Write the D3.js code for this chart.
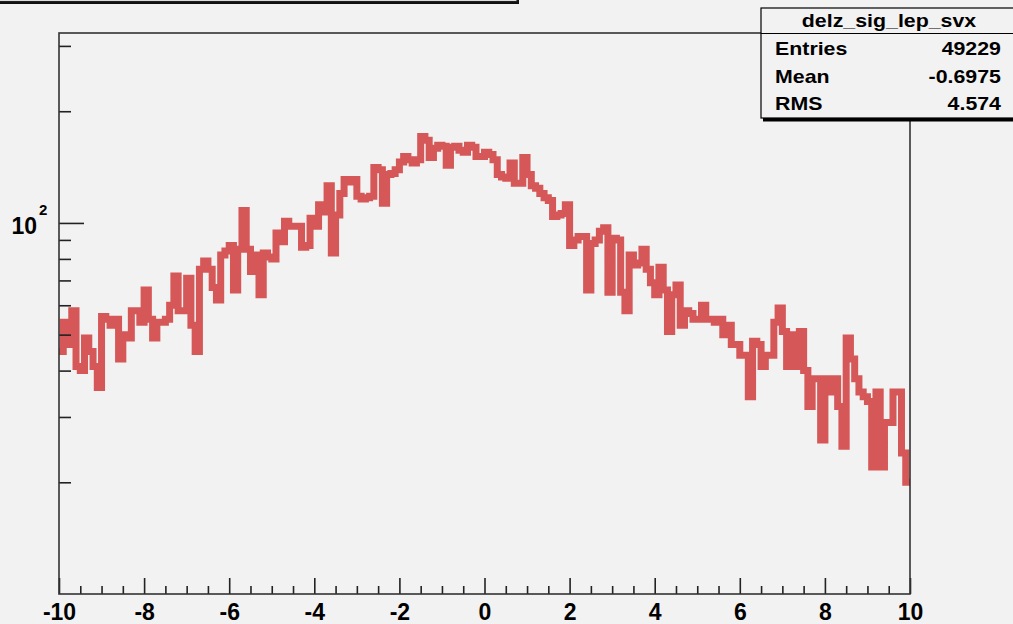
<!DOCTYPE html>
<html>
<head>
<meta charset="utf-8">
<script src="https://cdn.jsdelivr.net/npm/d3@7"></script>
<style>
  body { margin: 0; background: #f2f2f2; }
  svg { display: block; }
  text { font-family: "Liberation Sans", Arial, Helvetica, sans-serif; font-weight: bold; fill: #000; }
</style>
</head>
<body>
<div id="chart"></div>
<script>
// histogram delz_sig_lep_svx, 200 bins from -10 to 10 (counts)
const binLow = -10, binHigh = 10;
const counts = [
  45, 54, 47, 58, 41, 40, 49, 45, 41, 36,
  56, 55, 53, 55, 43, 50, 49, 58, 58, 54,
  66, 55, 49, 54, 54, 55, 60, 72, 58, 58,
  71, 53, 45, 75, 79, 75, 67, 62, 82, 84,
  87, 66, 85, 108, 85, 74, 82, 64, 83, 81,
  80, 94, 89, 101, 98, 98, 98, 86, 87, 103,
  98, 112, 107, 126, 83, 105, 120, 131, 129, 131,
  118, 116, 117, 118, 141, 139, 113, 135, 136, 139,
  146, 151, 148, 145, 148, 171, 167, 150, 159, 162,
  161, 143, 160, 161, 157, 155, 162, 160, 151, 151,
  155, 153, 148, 135, 133, 132, 145, 128, 128, 150,
  135, 126, 124, 120, 117, 115, 104, 105, 106, 112,
  87, 90, 92, 92, 66, 88, 90, 95, 97, 65,
  91, 90, 65, 58, 82, 77, 78, 85, 75, 69,
  64, 76, 66, 51, 64, 68, 53, 58, 57, 55,
  55, 60, 55, 55, 54, 55, 50, 53, 47, 47,
  44, 44, 34, 48, 47, 41, 44, 44, 54, 59,
  51, 41, 50, 41, 51, 40, 32, 38, 38, 26,
  38, 35, 38, 32, 25, 49, 43, 38, 35, 34,
  33, 22, 35, 22, 29, 29, 35, 35, 24, 20
];

const xMajor = [-10, -8, -6, -4, -2, 0, 2, 4, 6, 8, 10];
const xMinor = d3.range(-9.5, 10, 0.5).filter(v => Math.abs(v % 2) > 0.01);
const yMajor = [100];
const yMinor = [20, 30, 40, 50, 60, 70, 80, 90, 200, 300];
const yDomain = [10, 325];

const statsTitle = "delz_sig_lep_svx";
const statsRows = [["Entries", "49229"], ["Mean", "-0.6975"], ["RMS", "4.574"]];

const width = 1013, height = 624;
const frame = { left: 59, right: 910, top: 33, bottom: 594 };
const lineColor = "#d65757";

const svg = d3.select("#chart").append("svg")
  .attr("width", width)
  .attr("height", height);

svg.append("rect")
  .attr("width", width).attr("height", height)
  .attr("fill", "#f2f2f2");

const x = d3.scaleLinear().domain([binLow, binHigh]).range([frame.left, frame.right]);
const y = d3.scaleLog().domain(yDomain).range([frame.bottom, frame.top]);

// title box, only its lower edge shows on the canvas
svg.append("rect")
  .attr("x", -10).attr("y", -30).attr("width", 529).attr("height", 34)
  .attr("fill", "#111");
svg.append("rect")
  .attr("x", -10).attr("y", -30).attr("width", 527).attr("height", 31.5)
  .attr("fill", "#f2f2f2").attr("stroke", "#222").attr("stroke-width", 1.2);

svg.append("clipPath").attr("id", "frameClip")
  .append("rect")
  .attr("x", frame.left).attr("y", frame.top)
  .attr("width", frame.right - frame.left)
  .attr("height", frame.bottom - frame.top);

// histogram outline
const binW = (binHigh - binLow) / counts.length;
const pts = counts.map((c, i) => [binLow + i * binW, c]);
pts.push([binHigh, counts[counts.length - 1]]);

const line = d3.line()
  .x(d => x(d[0]))
  .y(d => y(d[1]))
  .curve(d3.curveStepAfter);

svg.append("path")
  .datum(pts)
  .attr("clip-path", "url(#frameClip)")
  .attr("d", line)
  .attr("fill", "none")
  .attr("stroke", lineColor)
  .attr("stroke-width", 7)
  .attr("stroke-linejoin", "miter");

// axes
const gx = svg.append("g").attr("transform", `translate(0,${frame.bottom})`);
gx.append("g")
  .call(d3.axisBottom(x).tickValues(xMinor).tickSize(-8).tickFormat(""))
  .call(g => g.select(".domain").remove());
gx.append("g")
  .call(d3.axisBottom(x).tickValues(xMajor).tickSize(-16).tickFormat(d3.format("d")))
  .call(g => g.select(".domain").remove())
  .selectAll("text")
  .attr("y", 26).attr("dy", 0)
  .style("font-size", "23px")
  .style("font-family", "'Liberation Sans', Arial, sans-serif")
  .style("font-weight", "bold")
  .text(d => d < 0 ? "-" + Math.abs(d) : d);

const gy = svg.append("g").attr("transform", `translate(${frame.left},0)`);
gy.append("g")
  .call(d3.axisLeft(y).tickValues(yMinor).tickSize(-12).tickFormat(""))
  .call(g => g.select(".domain").remove());
gy.append("g")
  .call(d3.axisLeft(y).tickValues(yMajor).tickSize(-25).tickFormat(""))
  .call(g => g.select(".domain").remove());
svg.selectAll(".tick line").attr("stroke", "#222").attr("stroke-width", 1.6);

svg.append("text")
  .attr("x", 37).attr("y", y(100) + 11)
  .attr("text-anchor", "end")
  .style("font-size", "23px")
  .text("10");
svg.append("text")
  .attr("x", 39).attr("y", y(100) - 8)
  .style("font-size", "15px")
  .text("2");

// frame
svg.append("rect")
  .attr("x", frame.left).attr("y", frame.top)
  .attr("width", frame.right - frame.left)
  .attr("height", frame.bottom - frame.top)
  .attr("fill", "none")
  .attr("stroke", "#333")
  .attr("stroke-width", 1.6);

// stats box
const sb = { x: 761, y: 8, w: 270, h: 110 };
svg.append("rect")
  .attr("x", sb.x + 2).attr("y", sb.y + 2).attr("width", sb.w).attr("height", sb.h + 1.5)
  .attr("fill", "#000");
svg.append("rect")
  .attr("x", sb.x).attr("y", sb.y).attr("width", sb.w).attr("height", sb.h)
  .attr("fill", "#f2f2f2").attr("stroke", "#000").attr("stroke-width", 1.2);
svg.append("line")
  .attr("x1", sb.x).attr("x2", sb.x + sb.w)
  .attr("y1", 33.5).attr("y2", 33.5)
  .attr("stroke", "#000").attr("stroke-width", 1.2);

const sx = 1.22;
svg.append("text")
  .attr("transform", `translate(889,27) scale(${sx},1)`)
  .attr("text-anchor", "middle")
  .style("font-size", "17.5px")
  .text(statsTitle);

statsRows.forEach((r, i) => {
  const by = 55 + i * 27.5;
  svg.append("text")
    .attr("transform", `translate(775,${by}) scale(${sx},1)`)
    .style("font-size", "17.5px")
    .text(r[0]);
  svg.append("text")
    .attr("transform", `translate(1001,${by}) scale(${sx},1)`)
    .attr("text-anchor", "end")
    .style("font-size", "17.5px")
    .text(r[1]);
});
</script>
</body>
</html>
